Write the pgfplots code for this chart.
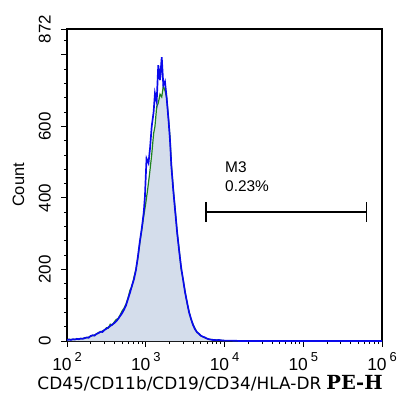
\documentclass[border=0pt]{standalone}
\usepackage{fontspec}
\setmainfont{Liberation Sans}
\newfontfamily\dejavu{DejaVu Sans}
\newfontfamily\dejavuserif{DejaVu Serif}
\usepackage{pgfplots}
\pgfplotsset{compat=1.18}
\usepackage{pgfplotstable}
\definecolor{fillc}{RGB}{212,221,235}
\definecolor{gline}{RGB}{30,130,30}
\definecolor{bline}{RGB}{10,10,235}

\pgfplotstableread{
x y
100 3
105.9 4
112.2 3
118.9 5
125.9 4
133.4 6
141.3 5
149.6 7
158.5 6
167.9 8
177.8 10
188.4 9
199.5 14
211.3 16
223.9 15
237.1 20
251.2 22
266.1 26
281.8 25
298.5 31
316.2 34
335.0 38
354.8 42
375.8 46
398.1 50
421.7 55
446.7 62
473.2 70
501.2 78
530.9 88
562.3 100
595.7 118
631.0 135
668.3 155
707.9 172
749.9 198
794.3 235
841.4 278
891.3 315
944.1 360
977 405
1023 510
1084 497
1135 540
1191 600
1259 640
1309 692
1377 669
1442 771
1517 729
1596 793
1671 715
1754 725
1845 678
1950 615
2032 562
2113 490
2239 420
2371 360
2512 300
2661 250
2818 205
2985 170
3162 135
3350 108
3548 80
3758 62
3981 45
4217 33
4467 25
4732 20
5012 15
5309 12
5623 10
5957 7
6310 5
6683 4
7079 3
7499 3
7943 2
8414 3
8913 2
10000 1
12590 1
15850 0
1000000 0
}\bluedata

\pgfplotstableread{
x y
100 2
105.9 5
112.2 4
118.9 4
125.9 5
133.4 5
141.3 6
149.6 6
158.5 7
167.9 9
177.8 9
188.4 11
199.5 13
211.3 15
223.9 17
237.1 19
251.2 24
266.1 25
281.8 28
298.5 30
316.2 37
335.0 36
354.8 47
375.8 45
398.1 53
421.7 60
446.7 63
473.2 73
501.2 84
530.9 92
562.3 104
595.7 120
631.0 142
668.3 152
707.9 178
749.9 200
794.3 232
841.4 275
891.3 312
944.1 350
1000 385
1059 425
1122 470
1189 520
1259 580
1309 600
1377 655
1442 665
1517 690
1596 682
1671 712
1754 700
1845 680
1950 620
2032 570
2113 495
2239 425
2371 365
2512 302
2661 255
2818 200
2985 172
3162 138
3350 105
3548 83
3758 60
3981 47
4217 35
4467 24
4732 21
5012 14
5309 12
5623 9
5957 7
6310 5
6683 4
7079 4
7499 2
7943 3
8414 2
8913 2
10000 1
12590 1
15850 0
1000000 0
}\greendata

\newcommand{\xtl}[1]{10\,\raisebox{8.5bp}{\fontsize{13}{13}\selectfont #1}}

\begin{document}
\begin{tikzpicture}
\useasboundingbox (-67bp,-66bp) rectangle (336bp,341bp);
\begin{axis}[
  at={(0,0)}, anchor=south west,
  width=315bp, height=312bp, scale only axis,
  xmode=log, xmin=100, xmax=1000000,
  ymin=0, ymax=872,
  axis line style={line width=1.2bp},
  tick align=outside,
  tick style={black, line width=0.8bp},
  major tick length=5.7bp, minor tick length=3bp,
  xtick pos=bottom, ytick pos=left,
  xtick={100,1000,10000,100000,1000000},
  xticklabels={\xtl{2},\xtl{3},\xtl{4},\xtl{5},\xtl{6}},
  minor xtick={200,300,400,500,600,700,800,900,2000,3000,4000,5000,6000,7000,8000,9000,20000,30000,40000,50000,60000,70000,80000,90000,200000,300000,400000,500000,600000,700000,800000,900000},
  ytick={0,200,400,600,800,872},
  yticklabels={0,200,400,600,{},872},
  minor ytick={40,80,120,160,240,280,320,360,440,480,520,560,640,680,720,760,840},
  tick label style={font=\fontsize{17}{17}\selectfont},
  xticklabel style={anchor=base, inner sep=0pt, font=\fontsize{17.5}{17.5}\selectfont},
  xticklabel shift=23.3bp,
  yticklabel style={rotate=90, anchor=base, inner sep=0pt},
  yticklabel shift=10.8bp,
  xlabel={{\dejavu\fontsize{17}{17}\selectfont CD45/CD11b/CD19/CD34/HLA-DR}\hspace{5bp}{\dejavuserif\bfseries\fontsize{19.5}{19.5}\selectfont PE-H}},
  xlabel style={at={(axis description cs:-0.0943,-0.157)}, anchor=base west, inner sep=0pt},
  ylabel={Count},
  ylabel style={at={(axis description cs:-0.1365,0.5)}, anchor=base, rotate=0, inner sep=0pt, font=\fontsize{16.5}{16.5}\selectfont},
  clip=true,
]
\addplot[fill=fillc, draw=none] table[x=x,y=y] {\greendata} \closedcycle;
\addplot[gline, line width=1.2bp] table[x=x,y=y] {\greendata};
\addplot[bline, line width=1.7bp] table[x=x,y=y] {\bluedata};
\addplot[black, line width=1.4bp] coordinates {(5820,361) (640000,361)};
\addplot[black, line width=1.4bp] coordinates {(5820,333) (5820,389)};
\addplot[black, line width=1.4bp] coordinates {(640000,333) (640000,389)};
\node[anchor=base west, inner sep=0pt, font=\fontsize{15.5}{15.5}\selectfont] at (axis cs:10140,472) {M3};
\node[anchor=base west, inner sep=0pt, font=\fontsize{15.5}{15.5}\selectfont] at (axis cs:10140,419) {0.23\%};
\end{axis}
\end{tikzpicture}
\end{document}
